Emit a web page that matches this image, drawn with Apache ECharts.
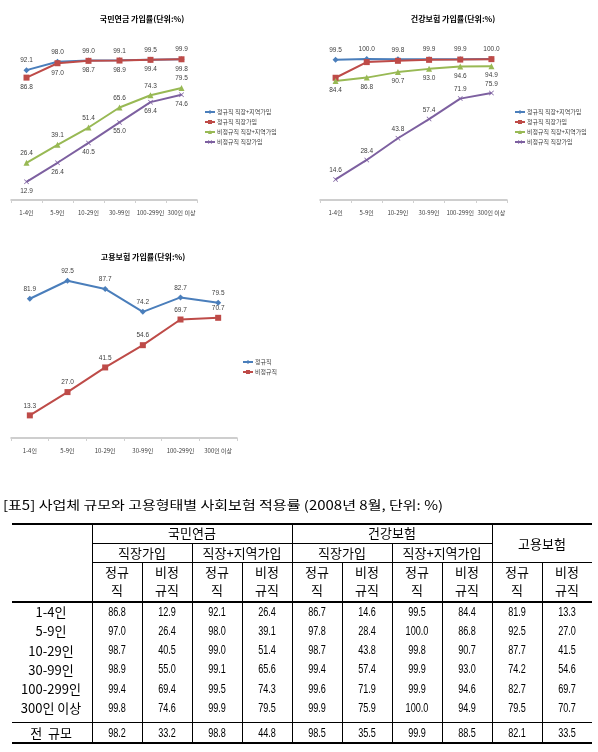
<!DOCTYPE html>
<html><head><meta charset="utf-8">
<script src="https://cdn.jsdelivr.net/npm/echarts@6/dist/echarts.min.js"></script>
<style>html,body{margin:0;padding:0;background:#fff}#c{width:598px;height:752px}</style>
</head><body><div id="c"></div>
<script>
// ---------- data ----------
const categories = ['1-4인', '5-9인', '10-29인', '30-99인', '100-299인', '300인 이상'];
const totalLabel = '전 규모';

const seriesNames = ['정규직 직장+지역가입', '정규직 직장가입', '비정규직 직장+지역가입', '비정규직 직장가입'];
const empNames = ['정규직', '비정규직'];

// 국민연금
const pensionRegWork = [86.8, 97.0, 98.7, 98.9, 99.4, 99.8];
const pensionIrrWork = [12.9, 26.4, 40.5, 55.0, 69.4, 74.6];
const pensionRegAll  = [92.1, 98.0, 99.0, 99.1, 99.5, 99.9];
const pensionIrrAll  = [26.4, 39.1, 51.4, 65.6, 74.3, 79.5];
// 건강보험
const healthRegWork = [86.7, 97.8, 98.7, 99.4, 99.6, 99.9];
const healthIrrWork = [14.6, 28.4, 43.8, 57.4, 71.9, 75.9];
const healthRegAll  = [99.5, 100.0, 99.8, 99.9, 99.9, 100.0];
const healthIrrAll  = [84.4, 86.8, 90.7, 93.0, 94.6, 94.9];
// 고용보험
const empReg = [81.9, 92.5, 87.7, 74.2, 82.7, 79.5];
const empIrr = [13.3, 27.0, 41.5, 54.6, 69.7, 70.7];
// 전 규모 (table column order)
const totals = [98.2, 33.2, 98.8, 44.8, 98.5, 35.5, 99.9, 88.5, 82.1, 33.5];

const chartTitles = ['국민연금 가입률(단위:%)', '건강보험 가입률(단위:%)', '고용보험 가입률(단위:%)'];
const tableTitle = '[표5] 사업체 규모와 고용형태별 사회보험 적용률 (2008년 8월, 단위: %)';
const groupHeaders = ['국민연금', '건강보험', '고용보험'];
const subHeaders = ['직장가입', '직장+지역가입'];
const typeHeaders = [['정규', '직'], ['비정', '규직']];

// ---------- styling ----------
const C_BLUE = '#4A7EBB', C_RED = '#BE4B48', C_GREEN = '#98B954', C_PURPLE = '#7D60A0';
const crossPath = 'path://M0,1L1,0L5,4L9,0L10,1L6,5L10,9L9,10L5,6L1,10L0,9L4,5Z';
const KR = '"Noto Sans CJK KR", "Noto Sans", sans-serif';

function ser(name, data, color, symbol, g, pos, showLabel) {
  return {
    type: 'line', name, data, xAxisIndex: g, yAxisIndex: g,
    symbol, symbolSize: symbol === crossPath ? 5 : 6,
    lineStyle: { color, width: 2 },
    itemStyle: { color },
    label: {
      show: showLabel !== false, position: pos, distance: 3,
      fontSize: 6.5, color: '#404040', fontFamily: '"Liberation Sans", sans-serif',
      formatter: p => Number(p.value).toFixed(1)
    },
    emphasis: { disabled: true },
    animation: false
  };
}

const grids = [
  { left: 11, top: 59, width: 186, height: 141 },
  { left: 320, top: 59, width: 187, height: 141 },
  { left: 11, top: 268, width: 226, height: 170 }
];

const xAxes = grids.map((g, i) => ({
  type: 'category', gridIndex: i, data: categories, boundaryGap: true,
  axisLine: { lineStyle: { color: '#BFBFBF', width: 1.5 } },
  axisTick: { show: true, length: 3, lineStyle: { color: '#D0D0D0' } },
  axisLabel: { fontSize: 6, color: '#404040', fontFamily: KR, margin: 10, interval: 0 }
}));
const yAxes = grids.map((g, i) => ({ type: 'value', gridIndex: i, min: 0, max: 100, show: false }));

const series = [
  ser(seriesNames[0], pensionRegAll, C_BLUE, 'diamond', 0, 'top'),
  ser(seriesNames[1], pensionRegWork, C_RED, 'rect', 0, 'bottom'),
  ser(seriesNames[2], pensionIrrAll, C_GREEN, 'triangle', 0, 'top'),
  ser(seriesNames[3], pensionIrrWork, C_PURPLE, crossPath, 0, 'bottom'),
  ser(seriesNames[0], healthRegAll, C_BLUE, 'diamond', 1, 'top'),
  ser(seriesNames[1], healthRegWork, C_RED, 'rect', 1, 'bottom', false),
  ser(seriesNames[2], healthIrrAll, C_GREEN, 'triangle', 1, 'bottom'),
  ser(seriesNames[3], healthIrrWork, C_PURPLE, crossPath, 1, 'top'),
  ser(empNames[0], empReg, C_BLUE, 'diamond', 2, 'top'),
  ser(empNames[1], empIrr, C_RED, 'rect', 2, 'top')
];

const legendBase = {
  orient: 'vertical', itemWidth: 10, itemHeight: 5, itemGap: 4,
  textStyle: { fontSize: 6, color: '#404040', fontFamily: KR, padding: [0, 0, 0, -3] },
  selectedMode: false
};
const legends = [
  Object.assign({}, legendBase, { data: seriesNames, left: 199, top: 104 }),
  Object.assign({}, legendBase, { data: seriesNames, left: 509, top: 104 }),
  Object.assign({}, legendBase, { data: empNames, left: 237, top: 354 })
];

// ---------- graphics: chart titles + table ----------
const gfx = [];
const titlePos = [[142, 19], [453, 19], [143, 257]];
chartTitles.forEach((t, i) => gfx.push({
  type: 'text', x: titlePos[i][0], y: titlePos[i][1],
  style: { text: t, align: 'center', verticalAlign: 'middle', font: 'bold 8px ' + KR, fill: '#000' }
}));

function txt(x, y, text, font, align, sx) {
  return { type: 'text', x, y, scaleX: sx || 1,
    style: { text, align: align || 'center', verticalAlign: 'middle', font, fill: '#000' } };
}
function ln(x1, y1, x2, y2, w) {
  return { type: 'line', shape: { x1, y1, x2, y2 }, style: { stroke: '#000', lineWidth: w || 1 } };
}

const F_KR = '13px ' + KR;
const F_NUM = '13px "Liberation Sans", sans-serif';
const colX = [92, 142, 192, 242, 292, 342, 392, 442, 492, 542, 592];
const tLeft = 12, tTop = 524, tBottom = 743;
const yGroup = 533, ySub = 553, yType1 = 572, yType2 = 590, hdrBottom = 602, totalLine = 722;
const rowY0 = 612, rowStep = 19.3, yTotal = 733;

gfx.push(txt(3, 505, tableTitle, '12.5px ' + KR, 'left', 1.2));

// lines
gfx.push(ln(tLeft, tTop, colX[10], tTop, 2));
gfx.push(ln(colX[0], 543.5, colX[8], 543.5, 1));
gfx.push(ln(colX[0], 562.5, colX[10], 562.5, 1));
gfx.push(ln(tLeft, hdrBottom, colX[10], hdrBottom, 2));
gfx.push(ln(tLeft, totalLine + 0.5, colX[10], totalLine + 0.5, 1));
gfx.push(ln(tLeft, tBottom, colX[10], tBottom, 2));
[0, 4, 8].forEach(i => gfx.push(ln(colX[i] + 0.5, tTop, colX[i] + 0.5, tBottom, 1)));
[2, 6].forEach(i => gfx.push(ln(colX[i] + 0.5, 543.5, colX[i] + 0.5, tBottom, 1)));
[1, 3, 5, 7, 9].forEach(i => gfx.push(ln(colX[i] + 0.5, 562.5, colX[i] + 0.5, tBottom, 1)));

// headers
gfx.push(txt((colX[0] + colX[4]) / 2, yGroup, groupHeaders[0], F_KR));
gfx.push(txt((colX[4] + colX[8]) / 2, yGroup, groupHeaders[1], F_KR));
gfx.push(txt((colX[8] + colX[10]) / 2, 544, groupHeaders[2], F_KR));
for (let k = 0; k < 4; k++) {
  gfx.push(txt((colX[2 * k] + colX[2 * k + 2]) / 2, ySub, subHeaders[k % 2], F_KR));
}
for (let c = 0; c < 10; c++) {
  const cx = (colX[c] + colX[c + 1]) / 2;
  const th = typeHeaders[c % 2];
  gfx.push(txt(cx, yType1, th[0], F_KR));
  gfx.push(txt(cx, yType2, th[1], F_KR));
}

// body
const tableCols = [pensionRegWork, pensionIrrWork, pensionRegAll, pensionIrrAll,
  healthRegWork, healthIrrWork, healthRegAll, healthIrrAll, empReg, empIrr];
const labelX = 51;
categories.forEach((cat, r) => {
  const y = rowY0 + r * rowStep;
  gfx.push(txt(labelX, y, cat, F_KR));
  tableCols.forEach((col, c) => {
    gfx.push(txt((colX[c] + colX[c + 1]) / 2, y, col[r].toFixed(1), F_NUM, 'center', 0.7));
  });
});
gfx.push(txt(labelX, yTotal, totalLabel.split(' ').join('  '), F_KR));
totals.forEach((v, c) => gfx.push(txt((colX[c] + colX[c + 1]) / 2, yTotal, v.toFixed(1), F_NUM, 'center', 0.7)));

const chart = echarts.init(document.getElementById('c'), null, { renderer: 'canvas' });
chart.setOption({
  backgroundColor: '#ffffff',
  animation: false,
  grid: grids,
  xAxis: xAxes,
  yAxis: yAxes,
  legend: legends,
  series,
  graphic: gfx
});
</script>
</body></html>
